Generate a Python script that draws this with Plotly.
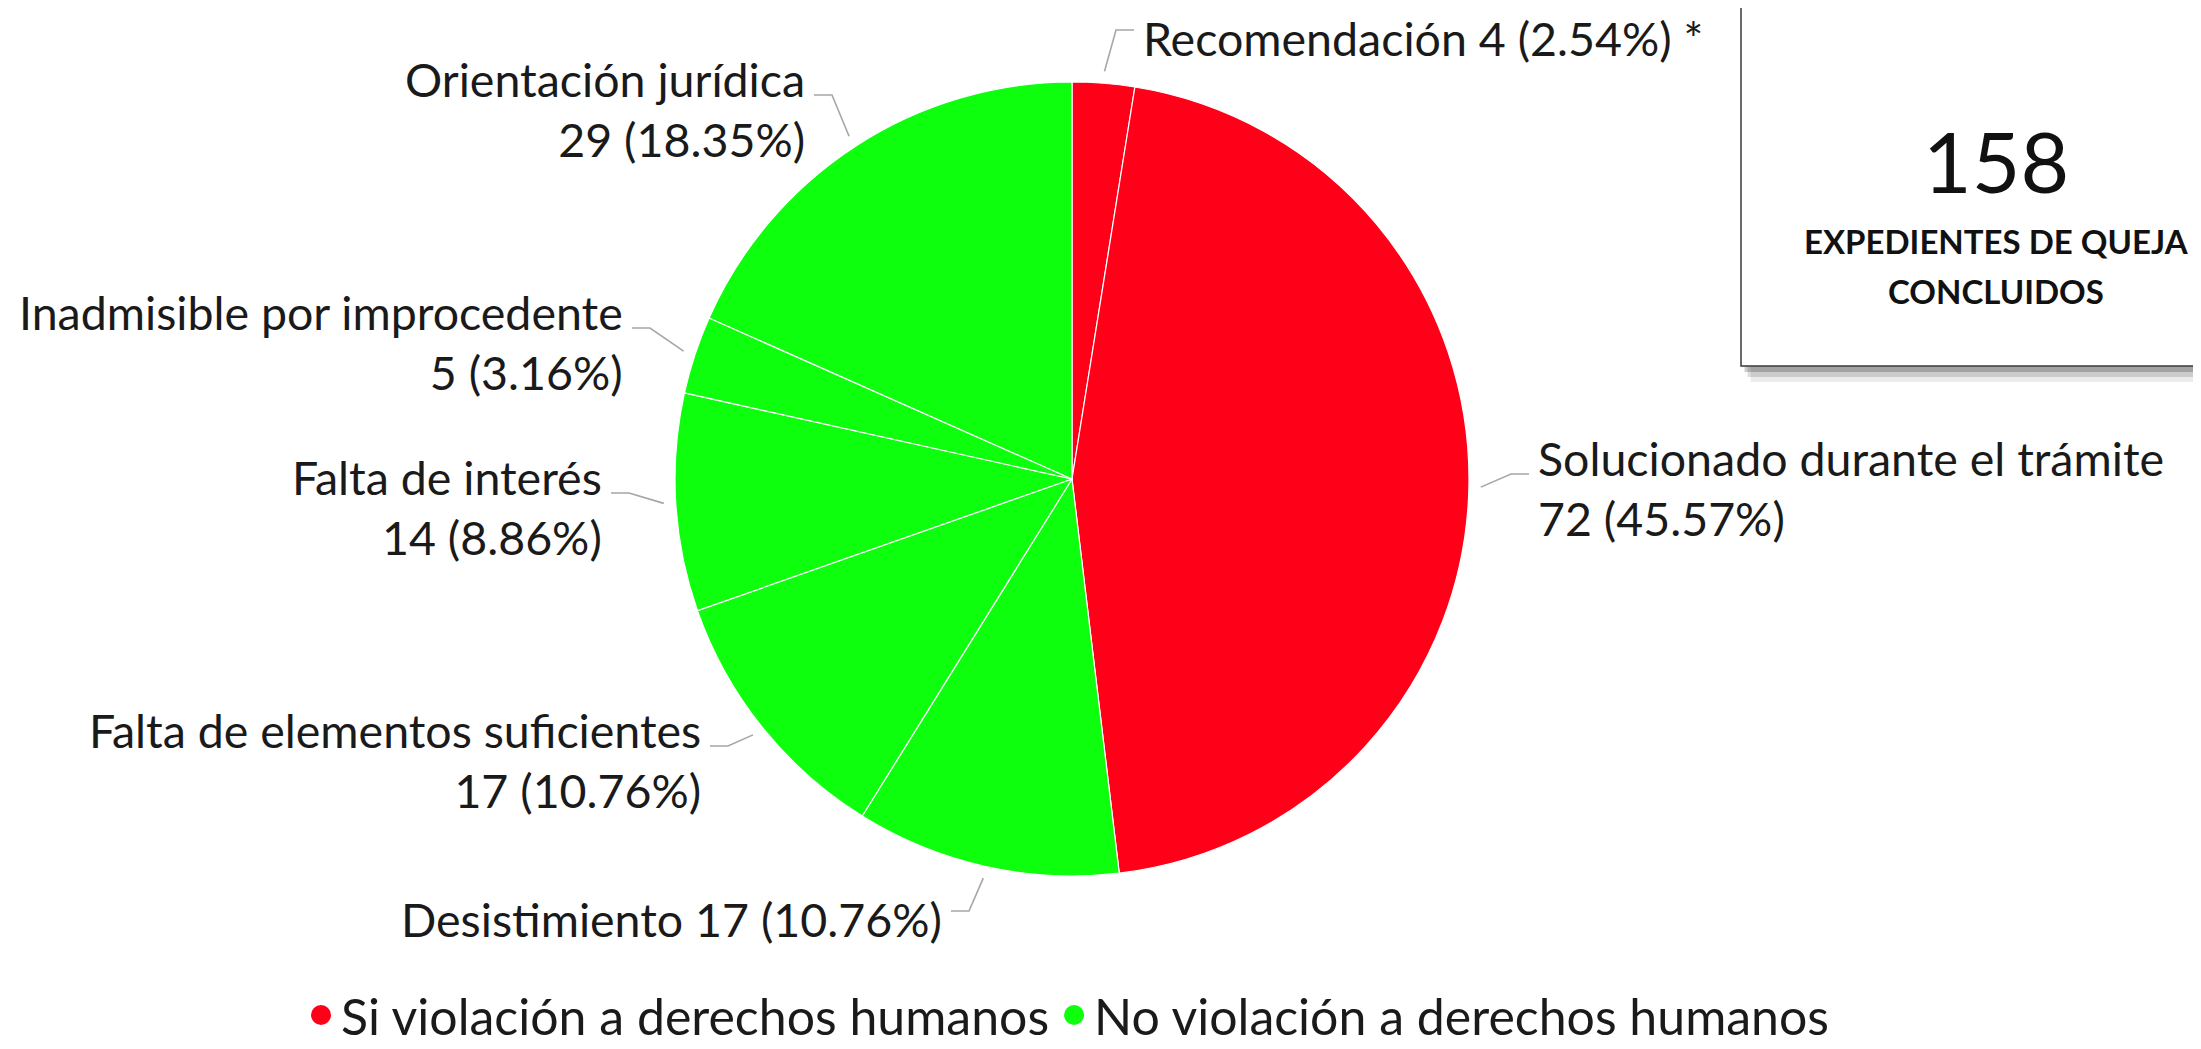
import math
import plotly.graph_objects as go

# ---------------- data ----------------
categories = ["Recomendación", "Solucionado durante el trámite", "Desistimiento",
              "Falta de elementos suficientes", "Falta de interés",
              "Inadmisible por improcedente", "Orientación jurídica"]
values = [4, 72, 17, 17, 14, 5, 29]
pct_labels = ["2.54%", "45.57%", "10.76%", "10.76%", "8.86%", "3.16%", "18.35%"]
groups = ["si", "si", "no", "no", "no", "no", "no"]
group_names = {"si": "Si violación a derechos humanos", "no": "No violación a derechos humanos"}
total_text = "158"
box_text = ["EXPEDIENTES DE QUEJA", "CONCLUIDOS"]

# ---------------- style ----------------
W, H = 2201, 1049
RED = "#FF0019"
GREEN = "#0DFF0D"
colors = {"si": RED, "no": GREEN}
FONT = "Lato"
LABEL_SIZE = 46.5
CX, CY, R = 1064, 471, 397   # pie centre / radius in px

# label layout: (anchor x px, block centre y px, side, two-line?, suffix)
label_layout = [
    (1134, 30, "left", False, " *"),
    (1529, 480, "left", True, ""),
    (935, 911, "right", False, ""),
    (694, 752, "right", True, ""),
    (595, 499, "right", True, ""),
    (616, 334, "right", True, ""),
    (798, 101, "right", True, ""),
]

def px(x, y):
    return x / W, 1 - y / H

fig = go.Figure()
fig.add_trace(go.Pie(
    labels=categories, values=values, sort=False, direction="clockwise", rotation=0,
    marker=dict(colors=[colors[g] for g in groups], line=dict(color="white", width=1.2)),
    textinfo="none", hoverinfo="label+value+percent", showlegend=False,
    domain=dict(x=[(CX - R) / W, (CX + R) / W], y=[(H - CY - R) / H, (H - CY + R) / H]),
))

# legend entries (dummy traces)
for g in ["si", "no"]:
    fig.add_trace(go.Scatter(x=[None], y=[None], mode="markers", name=group_names[g],
                             marker=dict(color=colors[g], size=16, symbol="circle",
                                         line=dict(color=colors[g], width=4))))

annotations = []
shapes = []
tot = sum(values)
cum = 0
for i, (cat, v, pct) in enumerate(zip(categories, values, pct_labels)):
    mid = (cum + v / 2) / tot * 2 * math.pi
    cum += v
    lx, ly, side, two, suffix = label_layout[i]
    if two:
        text = f"{cat}<br>{v} ({pct}){suffix}"
    else:
        text = f"{cat} {v} ({pct}){suffix}"
    ax, ay = px(lx, ly)
    annotations.append(dict(x=ax, y=ay, xref="paper", yref="paper", text=text, showarrow=False,
                            xanchor=side, yanchor="middle", align=side, borderpad=0,
                            font=dict(family=FONT, size=LABEL_SIZE, color="#1a1a1a")))
    # leader line
    Rl = R * 1.03
    p0 = (CX + Rl * math.sin(mid), CY - Rl * math.cos(mid))
    yl = ly - (14 if two else 8)
    if side == "right":
        end, elbow = (lx + 8, yl), (lx + 26, yl)
    else:
        end, elbow = (lx - 8, yl), (lx - 26, yl)
    pts = [px(*end), px(*elbow), px(*p0)]
    path = "M {} {} L {} {} L {} {}".format(pts[0][0], pts[0][1], pts[1][0], pts[1][1], pts[2][0], pts[2][1])
    shapes.append(dict(type="path", path=path, xref="paper", yref="paper",
                       line=dict(color="#A6A6A6", width=1.6)))

# info box with shadow
BX0, BY0, BX1, BY1 = 1733, -10, 2260, 358
for k, op in [(16, 0.08), (11, 0.13), (6, 0.2)]:
    x0, y0 = px(BX0 + k * 0.6, BY0)
    x1, y1 = px(BX1, BY1 + k)
    shapes.append(dict(type="rect", xref="paper", yref="paper", x0=x0, y0=y0, x1=x1, y1=y1,
                       fillcolor="rgba(0,0,0,%s)" % op, line=dict(width=0), layer="below"))
x0, y0 = px(BX0, BY0)
x1, y1 = px(BX1, BY1)
shapes.append(dict(type="rect", xref="paper", yref="paper", x0=x0, y0=y0, x1=x1, y1=y1,
                   fillcolor="white", line=dict(color="#3a3a3a", width=1.5), layer="below"))

annotations.append(dict(x=px(1988, 153)[0], y=px(1988, 153)[1], xref="paper", yref="paper", text=total_text,
                        showarrow=False, xanchor="center", yanchor="middle",
                        font=dict(family=FONT, size=84, color="#111")))
for txt, yy in zip(box_text, [233, 283]):
    annotations.append(dict(x=px(1988, yy)[0], y=px(1988, yy)[1], xref="paper", yref="paper",
                            text="<b>" + txt + "</b>",
                            showarrow=False, xanchor="center", yanchor="middle", align="center",
                            font=dict(family=FONT, size=33, color="#111")))

fig.update_layout(
    width=W, height=H, margin=dict(l=0, r=0, t=0, b=0),
    paper_bgcolor="white", plot_bgcolor="white",
    xaxis=dict(visible=False), yaxis=dict(visible=False),
    showlegend=True,
    legend=dict(orientation="h", x=1060 / W, xanchor="center", y=(H - 1007) / H, yanchor="middle",
                font=dict(family=FONT, size=50, color="#1a1a1a"), itemsizing="trace",
                bgcolor="rgba(0,0,0,0)"),
    annotations=annotations, shapes=shapes,
)
fig.write_html("out.html")
